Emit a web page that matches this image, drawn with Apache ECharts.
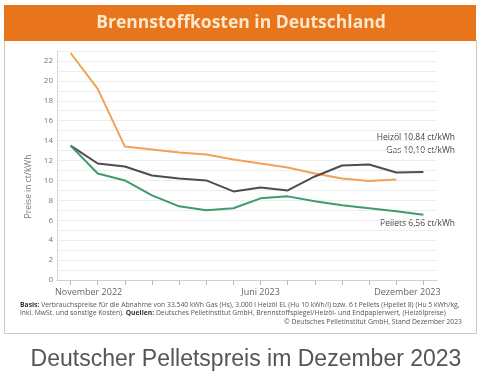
<!DOCTYPE html>
<html><head><meta charset="utf-8">
<script src="https://cdn.jsdelivr.net/npm/echarts@6/dist/echarts.min.js"></script>
<style>html,body{margin:0;padding:0;background:#fff}#c{width:482px;height:380px}</style>
</head><body><div id="c"></div>
<script>
var months = ['Nov 2022','Dez 2022','Jan 2023','Feb 2023','Mär 2023','Apr 2023','Mai 2023','Jun 2023','Jul 2023','Aug 2023','Sep 2023','Okt 2023','Nov 2023','Dez 2023'];
var gas     = [22.8, 19.2, 13.4, 13.1, 12.8, 12.6, 12.1, 11.7, 11.3, 10.7, 10.2, 9.95, 10.1, null];
var heizoel = [13.5, 11.7, 11.4, 10.5, 10.2, 10.0, 8.9, 9.3, 9.0, 10.4, 11.5, 11.6, 10.8, 10.84];
var pellets = [13.5, 10.7, 10.0, 8.5, 7.4, 7.0, 7.2, 8.2, 8.4, 7.9, 7.5, 7.2, 6.9, 6.56];
var xLabels = {0:'November 2022', 7:'Juni 2023', 13:'Dezember 2023'};
var yTicks = [0,2,4,6,8,10,12,14,16,18,20,22];
var lineLabels = {heizoel:'Heizöl 10,84 ct/kWh', gas:'Gas 10,10 ct/kWh', pellets:'Pellets 6,56 ct/kWh'};

var chart = echarts.init(document.getElementById('c'));
var F = 'Open Sans';
chart.setOption({
  animation:false,
  grid:{left:57, right:45, top:51, bottom:100},
  xAxis:{type:'category', data:months, boundaryGap:true,
    axisLine:{lineStyle:{color:'#cfcfcf'}},
    axisTick:{show:true, alignWithLabel:true, interval:0, length:5, lineStyle:{color:'#bbb'}},
    axisLabel:{interval:0, margin:8, fontFamily:F, fontSize:9, color:'#666',
      formatter:function(v,i){
        if(i===0) return '{l|'+xLabels[0]+'}';
        if(i===13) return '{r|'+xLabels[13]+'}';
        return xLabels[i]||'';
      },
      rich:{l:{padding:[0,0,0,36],fontFamily:F,fontSize:9,color:'#666'},
            r:{padding:[0,32,0,0],fontFamily:F,fontSize:9,color:'#666'}}},
    splitLine:{show:false}},
  yAxis:{type:'value', min:0, max:23, interval:1,
    name:'Preise in ct/kWh', nameLocation:'middle', nameGap:15, nameRotate:90,
    nameTextStyle:{fontFamily:F, fontSize:8.5, color:'#777', padding:[0,42,0,0]},
    axisLine:{show:true, lineStyle:{color:'#d6d6d6'}},
    axisTick:{show:false},
    axisLabel:{margin:4, fontFamily:F, fontSize:8, color:'#777',
      formatter:function(v){return yTicks.indexOf(v)>=0?String(v):'';}},
    splitLine:{lineStyle:{color:'#eeeeee', width:1}}},
  series:[
    {name:'Gas', type:'line', data:gas, symbol:'none', lineStyle:{color:'#F2A256', width:2}, itemStyle:{color:'#F2A256'}},
    {name:'Heizöl', type:'line', data:heizoel, symbol:'none', lineStyle:{color:'#4d4d4d', width:2}, itemStyle:{color:'#4d4d4d'}},
    {name:'Pellets', type:'line', data:pellets, symbol:'none', lineStyle:{color:'#3E9B6B', width:2}, itemStyle:{color:'#3E9B6B'}}
  ],
  graphic:[
    {type:'rect', z:-1, shape:{x:4.5, y:40.5, width:472, height:293}, style:{fill:'#fff', stroke:'#c8c8c8', lineWidth:1}},
    {type:'rect', shape:{x:4, y:5, width:472, height:36}, style:{fill:'#E8741B'}},
    {type:'text', x:241, y:23, style:{text:'Brennstoffkosten in Deutschland', fill:'#FDE8CC', font:'bold 17.5px "Open Sans"', align:'center', verticalAlign:'middle'}},
    {type:'text', x:455, y:138, style:{text:lineLabels.heizoel, fill:'#444', font:'8.5px "Open Sans"', align:'right', verticalAlign:'middle'}},
    {type:'text', x:455, y:151, style:{text:lineLabels.gas, fill:'#444', font:'8.5px "Open Sans"', align:'right', verticalAlign:'middle'}},
    {type:'text', x:455, y:224, style:{text:lineLabels.pellets, fill:'#444', font:'8.5px "Open Sans"', align:'right', verticalAlign:'middle'}},
    {type:'text', x:20, y:305, style:{text:'{b|Basis:} Verbrauchspreise für die Abnahme von 33.540 kWh Gas (Hs), 3.000 l Heizöl EL (Hu 10 kWh/l) bzw. 6 t Pellets (Hpellet 8) (Hu 5 kWh/kg,', fill:'#555', font:'6.8px "Open Sans"', verticalAlign:'middle', rich:{b:{fontWeight:'bold', fontSize:6.8, fontFamily:F, fill:'#333'}}}},
    {type:'text', x:20, y:313, style:{text:'inkl. MwSt. und sonstige Kosten). {b|Quellen:} Deutsches Pelletinstitut GmbH, Brennstoffspiegel/Heizöl- und Endpapierwert, (Heizölpreise)', fill:'#555', font:'6.8px "Open Sans"', verticalAlign:'middle', rich:{b:{fontWeight:'bold', fontSize:6.8, fontFamily:F, fill:'#333'}}}},
    {type:'text', x:462, y:322, style:{text:'© Deutsches Pelletinstitut GmbH, Stand Dezember 2023', fill:'#555', font:'6.8px "Open Sans"', align:'right', verticalAlign:'middle'}},
    {type:'text', x:246, y:360, style:{text:'Deutscher Pelletspreis im Dezember 2023', fill:'#555', font:'23px "Liberation Sans"', align:'center', verticalAlign:'middle'}}
  ]
});
</script></body></html>
